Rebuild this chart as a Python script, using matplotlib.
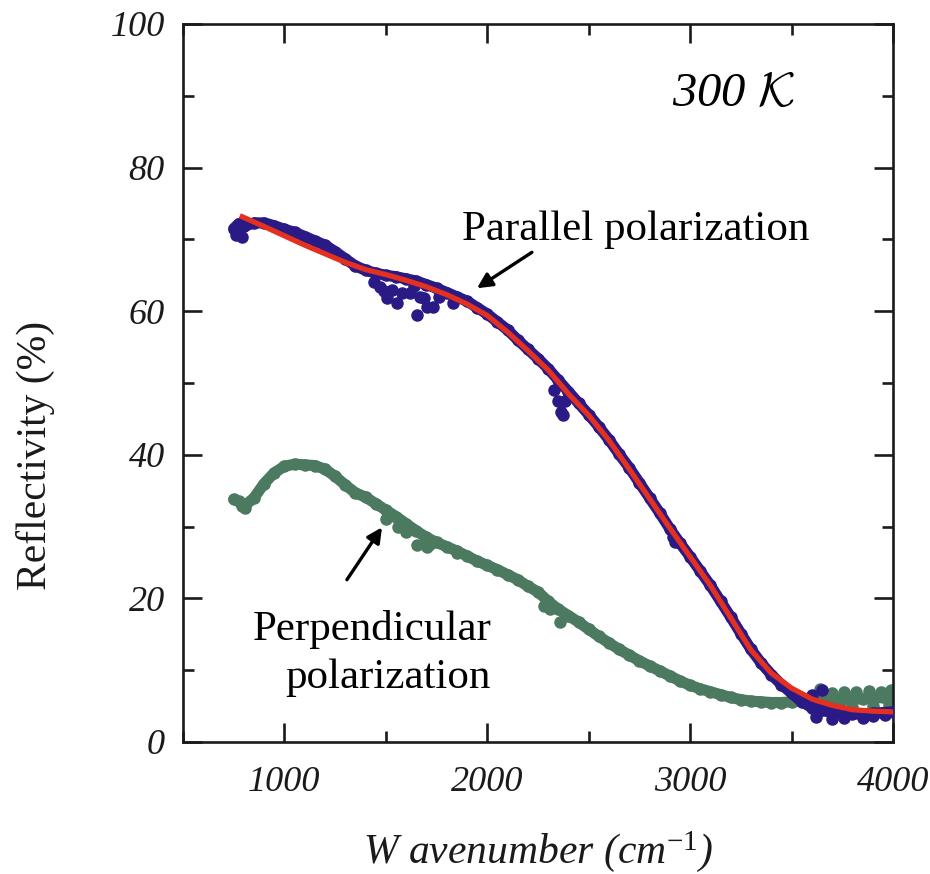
import matplotlib
matplotlib.use("Agg")
import matplotlib.pyplot as plt
from matplotlib.ticker import MultipleLocator

plt.rcParams['font.family'] = ['Liberation Serif', 'DejaVu Serif']
plt.rcParams['mathtext.fontset'] = 'custom'
plt.rcParams['mathtext.rm'] = 'Liberation Serif'
plt.rcParams['mathtext.it'] = 'Liberation Serif:italic'

# ---- data ----
wavenumber = [750, 775, 800, 850, 900, 950, 1000, 1050, 1100, 1150, 1200, 1250, 1300, 1350,
              1400, 1450, 1500, 1550, 1600, 1650, 1700, 1750, 1800, 1850, 1900, 1950, 2000,
              2050, 2100, 2150, 2200, 2250, 2300, 2350, 2400, 2450, 2500, 2550, 2600, 2650,
              2700, 2750, 2800, 2850, 2900, 2950, 3000, 3050, 3100, 3150, 3200, 3250, 3300,
              3350, 3400, 3450, 3500, 3550, 3600, 3650, 3700, 3750, 3800, 3850, 3900, 3950, 4000]

parallel = [71.5, 72.2, 71.8, 72.3, 72.3, 71.9, 71.4, 71.0, 70.4, 69.8, 69.2, 68.3, 67.3, 66.3,
            65.7, 65.3, 65.0, 64.8, 64.5, 64.2, 63.7, 63.2, 62.6, 62.0, 61.4, 60.5, 59.6,
            58.5, 57.4, 56.0, 54.7, 53.4, 52.0, 50.4, 48.8, 47.2, 45.6, 43.9, 42.1, 40.1,
            38.2, 36.1, 34.0, 31.9, 29.7, 27.7, 25.8, 23.8, 21.8, 19.6, 17.4, 15.1, 12.9,
            11.0, 9.4, 8.0, 6.8, 5.6, 4.8, 4.4, 4.1, 4.0, 3.9, 3.9, 4.0, 4.1, 4.2]

perpendicular = [33.8, 33.5, 32.8, 34.0, 36.0, 37.5, 38.4, 38.7, 38.6, 38.5, 38.0, 37.0, 35.8, 34.7,
                 34.1, 33.2, 32.3, 31.4, 30.4, 29.4, 28.5, 27.8, 27.2, 26.6, 25.9, 25.2, 24.6,
                 24.0, 23.3, 22.6, 21.7, 20.9, 19.6, 18.5, 17.6, 16.7, 15.7, 14.7, 13.8, 12.9,
                 12.1, 11.3, 10.6, 9.9, 9.2, 8.5, 7.9, 7.4, 7.0, 6.6, 6.2, 5.9, 5.7,
                 5.6, 5.5, 5.5, 5.6, 5.7, 5.8, 5.9, 5.9, 5.9, 6.0, 6.0, 6.1, 6.2, 6.2]

# scattered points lying off the main parallel trace
par_scatter_x = [760, 770, 790, 1440, 1471, 1490, 1505, 1530, 1555, 1580, 1619, 1640, 1653,
                 1668, 1690, 1703, 1733, 1760, 1832,
                 2330, 2350, 2365, 2375, 2382, 2915, 2925,
                 3600, 3620, 3650, 3700, 3760, 3850, 3900, 3960]
par_scatter_y = [70.6, 71.0, 70.4, 64.0, 63.4, 62.8, 61.8, 63.0, 61.1, 62.6, 62.5, 63.5, 59.5,
                 62.0, 61.8, 60.6, 60.6, 62.0, 61.1,
                 49.0, 47.5, 46.0, 45.5, 47.5, 28.5, 27.8,
                 6.5, 3.5, 7.2, 3.2, 3.3, 3.4, 3.6, 3.8]

# scattered points lying off the main perpendicular trace
perp_scatter_x = [790, 806, 1500, 1560, 1600, 1653, 1703, 1720, 1851, 2280, 2310, 2358,
                  3620, 3640, 3700, 3720, 3760, 3800, 3820, 3880, 3900, 3940, 3980, 3990]
perp_scatter_y = [32.9, 32.6, 31.0, 30.0, 29.2, 27.4, 27.2, 27.6, 26.3, 19.0, 18.5, 16.7,
                  4.2, 7.4, 6.8, 5.0, 7.0, 4.9, 6.9, 7.1, 5.0, 7.0, 5.2, 7.2]

# fitted curve for parallel polarization
fit_x = [780, 900, 1000, 1100, 1200, 1300, 1400, 1500, 1600, 1700, 1800, 1900, 2000, 2100,
         2200, 2300, 2400, 2500, 2600, 2700, 2800, 2900, 3000, 3100, 3200, 3300, 3400,
         3500, 3600, 3700, 3800, 3900, 4000]
fit_y = [73.3, 71.8, 70.5, 69.2, 68.0, 66.8, 65.8, 65.1, 64.3, 63.4, 62.3, 61.0, 59.4, 57.1,
         54.5, 51.8, 48.5, 45.5, 42.0, 38.0, 33.9, 29.8, 25.8, 21.8, 17.3, 12.8, 9.6,
         7.5, 6.0, 5.1, 4.5, 4.3, 4.2]

x_ticks = [1000, 2000, 3000, 4000]
y_ticks = [0, 20, 40, 60, 80, 100]

BLUE = '#2a1a86'
RED = '#e4301f'
GREEN = '#4b7a60'
INK = '#1a1a1a'

fig = plt.figure(figsize=(9.3, 8.74), dpi=100)
ax = fig.add_axes([183/930, 1-742/874, (893-183)/930, (742-24)/874])

# perpendicular (green) band
ax.plot(wavenumber, perpendicular, color=GREEN, lw=8, solid_capstyle='round',
        solid_joinstyle='round', zorder=2)
ax.plot(wavenumber, perpendicular, 'o', color=GREEN, ms=8, zorder=2)
ax.plot(perp_scatter_x, perp_scatter_y, 'o', color=GREEN, ms=8, zorder=2)

# parallel (blue) band
ax.plot(wavenumber, parallel, color=BLUE, lw=8, solid_capstyle='round',
        solid_joinstyle='round', zorder=3)
ax.plot(wavenumber, parallel, 'o', color=BLUE, ms=8, zorder=3)
ax.plot(par_scatter_x, par_scatter_y, 'o', color=BLUE, ms=8, zorder=3)

# fit
ax.plot(fit_x, fit_y, color=RED, lw=3.8, zorder=4, solid_capstyle='butt')

ax.set_xlim(500, 4000)
ax.set_ylim(0, 100)
ax.set_xticks(x_ticks)
ax.set_yticks(y_ticks)
ax.xaxis.set_minor_locator(MultipleLocator(500))
ax.yaxis.set_minor_locator(MultipleLocator(10))
ax.tick_params(which='both', direction='in', top=True, right=True, width=1.9, color=INK)
ax.tick_params(which='major', length=14)
ax.tick_params(which='minor', length=8)
ax.tick_params(axis='x', which='major', pad=17)
ax.tick_params(axis='y', which='major', pad=13)
for lab in ax.get_xticklabels() + ax.get_yticklabels():
    lab.set_fontstyle('italic')
    lab.set_fontsize(26)
    lab.set_color(INK)
for sp in ax.spines.values():
    sp.set_linewidth(1.9)
    sp.set_color(INK)

ax.set_xlabel(r'W avenumber (cm$^{\mathit{-1}}$)', fontsize=30, fontstyle='italic',
              labelpad=22, color=INK)
fig.text(35/930, 1-455/874, 'Reflectivity (%)', rotation=90, fontsize=30,
         ha='center', va='center', color=INK)

ax.text(1875, 69.9, 'Parallel polarization', fontsize=31, ha='left', va='baseline', color='black')
ax.text(2023, 14.2, 'Perpendicular', fontsize=31, ha='right', va='baseline', color='black')
ax.text(2015, 7.5, 'polarization', fontsize=31, ha='right', va='baseline', color='black')
ax.text(2910, 88.6, r'300 $\mathcal{K}$', fontsize=35, fontstyle='italic', ha='left',
        va='baseline', color='black', math_fontfamily='cm')

arrow = dict(arrowstyle='-|>,head_length=0.9,head_width=0.45', color='black', lw=2.4,
             shrinkA=0, shrinkB=0)
ax.annotate('', xy=(1949, 63.2), xytext=(2220, 68.2), arrowprops=arrow, zorder=6)
ax.annotate('', xy=(1481, 29.9), xytext=(1308, 22.6), arrowprops=arrow, zorder=6)

fig.savefig('out.png', dpi=100)
